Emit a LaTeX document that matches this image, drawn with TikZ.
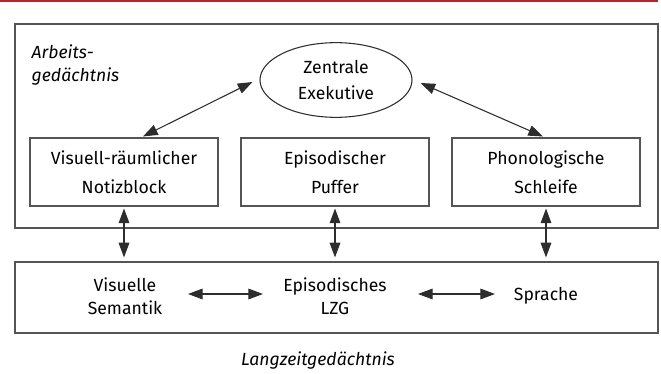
\documentclass[tikz,border=0pt]{standalone}
\usepackage{fontspec}
\setmainfont{Fira Sans}
\usetikzlibrary{shapes.geometric, arrows.meta, positioning, calc}
\definecolor{headred}{RGB}{192,32,46}
\definecolor{framegray}{RGB}{85,85,85}
\definecolor{arrowgray}{RGB}{45,45,45}

\begin{document}
\begin{tikzpicture}[x=0.75pt, y=-0.75pt,
  region/.style={rectangle, draw=framegray, line width=0.9pt, inner sep=0pt,
                 minimum width=482.25pt},
  comp/.style={rectangle, draw=framegray, line width=0.8pt, align=center,
               font=\fontsize{13.2}{22}\selectfont, minimum width=141pt, minimum height=51pt},
  exec/.style={ellipse, draw=arrowgray, line width=0.8pt, align=center,
               font=\fontsize{13.2}{20}\selectfont, minimum width=114pt, minimum height=56pt, inner sep=0pt},
  store/.style={align=center, font=\fontsize{13.2}{17}\selectfont},
  title/.style={align=left, font=\fontsize{13.2}{17}\selectfont\itshape},
  arr/.style={{Triangle[length=11pt, width=8pt]}-{Triangle[length=11pt, width=8pt]},
              line width=0.8pt, arrowgray},
]
  \useasboundingbox (0,0) rectangle (661,374);

  % red rule on top
  \draw[headred, line width=1.6pt] (0,1) -- (658,1);

  % the two stores
  \node[region, minimum height=153pt]  (wm)  at (336.5,126)   {};
  \node[region, minimum height=53.25pt] (lzg) at (336.5,297.5) {};

  \node[title, anchor=north west] (wmt) at (27,40) {Arbeits-\\gedächtnis};
  \node[title] (lzgt) at (318,361) {Langzeitgedächtnis};

  % working memory components
  \node[exec] (ze) at (336,80)  {Zentrale\\Exekutive};
  \node[comp] (vr) at (124,172) {Visuell-räumlicher\\Notizblock};
  \node[comp] (ep) at (335,172) {Episodischer\\Puffer};
  \node[comp] (ph) at (546,172) {Phonologische\\Schleife};

  % long-term memory contents
  \node[store] (vs) at (125,296) {Visuelle\\Semantik};
  \node[store] (el) at (335,296) {Episodisches\\LZG};
  \node[store] (sp) at (546,296) {Sprache};

  \draw[arr] ($(vr.north)+(19,-1)$) -- ($(ze.west)+(-7,2)$);
  \draw[arr] ($(ph.north)+(-3,-1)$) -- ($(ze.east)+(8,3)$);

  \draw[arr] ($(vr.south)+(0,2)$) -- ($(vr.south |- lzg.north)+(0,-4)$);
  \draw[arr] ($(ep.south)+(0,2)$) -- ($(ep.south |- lzg.north)+(0,-4)$);
  \draw[arr] ($(ph.south)+(0,2)$) -- ($(ph.south |- lzg.north)+(0,-4)$);

  \draw[arr] ($(vs)+(63,-2)$) -- ($(el)+(-72,-2)$);
  \draw[arr] ($(el)+(83,-2)$) -- ($(sp)+(-51,-2)$);
\end{tikzpicture}
\end{document}
